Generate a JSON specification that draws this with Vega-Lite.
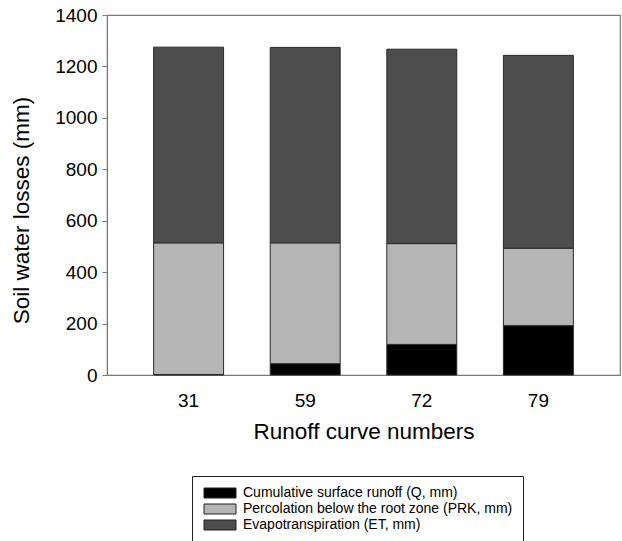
{
  "$schema": "https://vega.github.io/schema/vega-lite/v6.json",
  "autosize": {"type": "none"},
  "width": 513,
  "height": 360,
  "padding": {"left": 107, "top": 15, "right": 2, "bottom": 166},
  "background": "white",
  "config": {
    "font": "Liberation Sans",
    "view": {"stroke": "#7a7a7a", "strokeWidth": 1.2}
  },
  "data": {
    "values": [
      {"cn": "31", "comp": "Cumulative surface runoff (Q, mm)", "k": 1, "v": 2},
      {"cn": "31", "comp": "Percolation below the root zone (PRK, mm)", "k": 2, "v": 512},
      {"cn": "31", "comp": "Evapotranspiration (ET, mm)", "k": 3, "v": 761},
      {"cn": "59", "comp": "Cumulative surface runoff (Q, mm)", "k": 1, "v": 44},
      {"cn": "59", "comp": "Percolation below the root zone (PRK, mm)", "k": 2, "v": 470},
      {"cn": "59", "comp": "Evapotranspiration (ET, mm)", "k": 3, "v": 760},
      {"cn": "72", "comp": "Cumulative surface runoff (Q, mm)", "k": 1, "v": 119},
      {"cn": "72", "comp": "Percolation below the root zone (PRK, mm)", "k": 2, "v": 392},
      {"cn": "72", "comp": "Evapotranspiration (ET, mm)", "k": 3, "v": 756},
      {"cn": "79", "comp": "Cumulative surface runoff (Q, mm)", "k": 1, "v": 192},
      {"cn": "79", "comp": "Percolation below the root zone (PRK, mm)", "k": 2, "v": 301},
      {"cn": "79", "comp": "Evapotranspiration (ET, mm)", "k": 3, "v": 750}
    ]
  },
  "mark": {"type": "bar", "stroke": "#2a2a2a", "strokeWidth": 1},
  "encoding": {
    "x": {
      "field": "cn", "type": "ordinal",
      "scale": {"paddingInner": 0.4, "paddingOuter": 0.4},
      "axis": {
        "title": "Runoff curve numbers",
        "labelAngle": 0,
        "ticks": false,
        "domain": false,
        "labelFontSize": 19,
        "labelColor": "black",
        "labelPadding": 16,
        "titleFontSize": 22.5,
        "titleFontWeight": "normal",
        "titleColor": "black",
        "titlePadding": 10
      }
    },
    "y": {
      "field": "v", "type": "quantitative", "stack": "zero",
      "scale": {"domain": [0, 1400], "nice": false},
      "axis": {
        "title": "Soil water losses (mm)",
        "values": [0, 200, 400, 600, 800, 1000, 1200, 1400],
        "format": "d",
        "grid": false,
        "tickSize": 5,
        "tickColor": "#7a7a7a",
        "domainColor": "#7a7a7a",
        "labelFontSize": 19,
        "labelColor": "black",
        "labelPadding": 5,
        "titleFontSize": 22.5,
        "titleFontWeight": "normal",
        "titleColor": "black",
        "titleAnchor": "middle",
        "titleX": -74,
        "titleY": 195,
        "titleBaseline": "bottom"
      }
    },
    "color": {
      "field": "comp", "type": "nominal",
      "sort": ["Cumulative surface runoff (Q, mm)", "Percolation below the root zone (PRK, mm)", "Evapotranspiration (ET, mm)"],
      "scale": {
        "domain": ["Cumulative surface runoff (Q, mm)", "Percolation below the root zone (PRK, mm)", "Evapotranspiration (ET, mm)"],
        "range": ["#000000", "#b5b5b5", "#4d4d4d"]
      },
      "legend": {
        "title": null,
        "orient": "none",
        "legendX": 85,
        "legendY": 461,
        "padding": 10,
        "strokeColor": "#222222",
        "fillColor": "white",
        "symbolType": "M-3.2,-1H3.2V1H-3.2Z",
        "symbolSize": 100,
        "symbolOffset": 11,
        "symbolStrokeColor": "#222222",
        "symbolStrokeWidth": 1,
        "symbolOpacity": 1,
        "labelFontSize": 14,
        "labelColor": "black",
        "labelOffset": 16,
        "labelLimit": 400,
        "rowPadding": 2
      }
    },
    "order": {"field": "k", "type": "quantitative"}
  }
}
